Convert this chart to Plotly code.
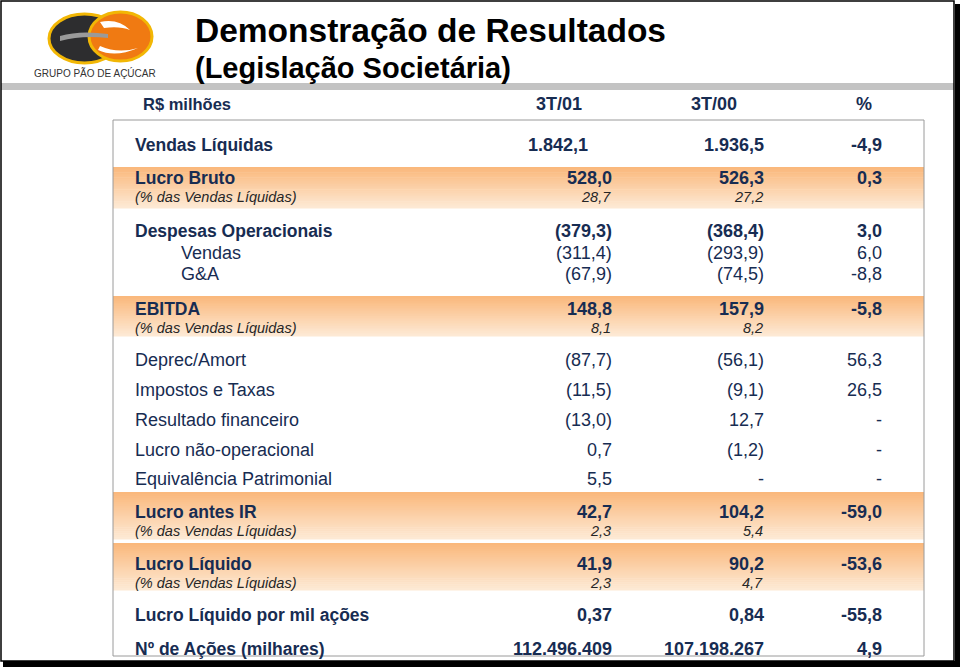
import plotly.graph_objects as go

# ---------------- data ----------------
title = "Demonstração de Resultados"
subtitle = "(Legislação Societária)"
unit_label = "R$ milhões"
col_headers = ["3T/01", "3T/00", "%"]

row_labels = ["Vendas Líquidas", "Lucro Bruto", "Despesas Operacionais", "Vendas", "G&A",
              "EBITDA", "Deprec/Amort", "Impostos e Taxas", "Resultado financeiro",
              "Lucro não-operacional", "Equivalência Patrimonial", "Lucro antes IR",
              "Lucro Líquido", "Lucro Líquido por mil ações", "Nº de Ações (milhares)"]
v_3t01 = [1842.1, 528.0, -379.3, -311.4, -67.9, 148.8, -87.7, -11.5, -13.0, 0.7, 5.5,
          42.7, 41.9, 0.37, 112496409]
v_3t00 = [1936.5, 526.3, -368.4, -293.9, -74.5, 157.9, -56.1, -9.1, 12.7, -1.2, None,
          104.2, 90.2, 0.84, 107198267]
v_pct = [-4.9, 0.3, 3.0, 6.0, -8.8, -5.8, 56.3, 26.5, None, None, None,
         -59.0, -53.6, -55.8, 4.9]
decimals = [1, 1, 1, 1, 1, 1, 1, 1, 1, 1, 1, 1, 1, 2, 0]
bold_rows = [0, 1, 2, 5, 11, 12, 13, 14]
indent_rows = [3, 4]

margin_label = "(% das Vendas Líquidas)"
margin_rows = [1, 5, 11, 12]
margin_3t01 = [28.7, 8.1, 2.3, 2.3]
margin_3t00 = [27.2, 8.2, 5.4, 4.7]

# ---------------- layout constants ----------------
W, H = 960, 667
NAVY = "#172c52"
FONT = "Liberation Sans, Arial, sans-serif"
row_y = [145, 178, 231, 253, 274, 309, 360, 390, 420, 450, 479, 512, 564, 615, 649]
band_spans = [(167, 208), (296, 336), (492, 539), (543, 590)]
x_label, x_indent = 133, 179
x_c1, x_c2, x_c3 = 614, 766, 884
x_c1_first = 590


def br(v, dec):
    s = f"{abs(v):,.{dec}f}"
    return s.replace(",", "X").replace(".", ",").replace("X", ".")


def fmt_val(v, dec):
    if v is None:
        return "-"
    return f"({br(v, dec)})" if v < 0 else br(v, dec)


def fmt_pct(v):
    if v is None:
        return "-"
    return f"-{br(v, 1)}" if v < 0 else br(v, 1)


shapes = []
ann = []


def rect(x0, y0, x1, y1, fill, line_color=None, lw=0):
    shapes.append(dict(type="rect", xref="x", yref="y", x0=x0, y0=y0, x1=x1, y1=y1,
                       fillcolor=fill, line=dict(color=line_color or fill, width=lw),
                       layer="below"))


def text(x, y, s, size, color=NAVY, bold=False, italic=False, xanchor="left"):
    t = f"<b>{s}</b>" if bold else s
    t = f"<i>{t}</i>" if italic else t
    ann.append(dict(x=x, y=y, xref="x", yref="y", text=t, showarrow=False,
                    xanchor=xanchor, yanchor="middle",
                    font=dict(family=FONT, size=size, color=color)))


# frame + shadow
rect(0, 0, W, H, "white")
rect(955, 4, 960, H, "black")
rect(3, 661, 960, H, "black")
shapes.append(dict(type="rect", xref="x", yref="y", x0=1, y0=1, x1=954, y1=661,
                   fillcolor="rgba(0,0,0,0)", line=dict(color="black", width=1.5)))
# grey bar under title
rect(1, 83, 954, 90, "#c3c3c3")

# gradient bands
def lerp(a, b, t):
    return tuple(int(round(a[i] + (b[i] - a[i]) * t)) for i in range(3))

c_top = (250, 184, 124)
c_bot = (253, 233, 212)
n_strips = 24
for (y0, y1) in band_spans:
    h = (y1 - y0) / n_strips
    for k in range(n_strips):
        c = lerp(c_top, c_bot, k / (n_strips - 1))
        col = f"rgb{c}"
        shapes.append(dict(type="rect", xref="x", yref="y", x0=113, x1=924,
                           y0=y0 + k * h, y1=y0 + (k + 1) * h + 0.6,
                           fillcolor=col, line=dict(width=0), layer="below"))

# table box
shapes.append(dict(type="rect", xref="x", yref="y", x0=113, y0=120, x1=924, y1=656,
                   fillcolor="rgba(0,0,0,0)", line=dict(color="#9a9a9a", width=1)))

# logo
shapes.append(dict(type="circle", xref="x", yref="y", x0=49, y0=14, x1=120, y1=63,
                   fillcolor="#2d2d2f", line=dict(color="#f2b705", width=3)))
shapes.append(dict(type="circle", xref="x", yref="y", x0=89, y0=12, x1=152, y1=61,
                   fillcolor="#f07a12", line=dict(color="#f2b705", width=3)))
shapes.append(dict(type="path", xref="x", yref="y",
                   path="M 60 36 Q 80 30 108 34 L 108 38 Q 82 35 60 41 Z",
                   fillcolor="#9a9a9a", line=dict(width=0)))
shapes.append(dict(type="path", xref="x", yref="y",
                   path="M 100 22 Q 118 18 130 30 Q 120 26 104 28 Z",
                   fillcolor="#ffffff", line=dict(width=0)))
shapes.append(dict(type="path", xref="x", yref="y",
                   path="M 98 50 Q 115 58 138 48 Q 118 54 100 46 Z",
                   fillcolor="#ffffff", line=dict(width=0)))
text(95, 73, "GRUPO PÃO DE AÇÚCAR", 10, color="#333333", xanchor="center")

# titles
text(193, 30, title, 33.5, color="black", bold=True)
text(193, 68, subtitle, 29, color="black", bold=True)

# header row
text(141, 104, unit_label, 16.5, bold=True)
for cx, h in zip([559, 714, 864], col_headers):
    text(cx, 104, h, 18, bold=True, xanchor="center")

# rows
for i, lab in enumerate(row_labels):
    y = row_y[i]
    b = i in bold_rows
    x = x_indent if i in indent_rows else x_label
    text(x, y, lab, 17.5 if b else 18, bold=b)
    text(x_c1_first if i == 0 else x_c1, y, fmt_val(v_3t01[i], decimals[i]), 18,
         bold=b, xanchor="right")
    text(x_c2, y, fmt_val(v_3t00[i], decimals[i]), 18, bold=b, xanchor="right")
    text(x_c3, y, fmt_pct(v_pct[i]), 18, bold=b, xanchor="right")

for j, r in enumerate(margin_rows):
    y = row_y[r] + 19
    text(x_label, y, margin_label, 14.5, color="#262626", italic=True)
    text(x_c1 - 1, y, br(margin_3t01[j], 1), 14.5, color="#262626", italic=True,
         xanchor="right")
    text(x_c2 - 1, y, br(margin_3t00[j], 1), 14.5, color="#262626", italic=True,
         xanchor="right")

fig = go.Figure(go.Scatter(x=[], y=[]))
fig.update_layout(
    width=W, height=H, margin=dict(l=0, r=0, t=0, b=0),
    paper_bgcolor="white", plot_bgcolor="white", showlegend=False,
    xaxis=dict(range=[0, W], visible=False, fixedrange=True),
    yaxis=dict(range=[H, 0], visible=False, fixedrange=True),
    shapes=shapes, annotations=ann,
)
fig.write_html("out.html", config={"displayModeBar": False},
               post_script="document.body.style.margin='0';document.body.style.overflow='hidden';")
